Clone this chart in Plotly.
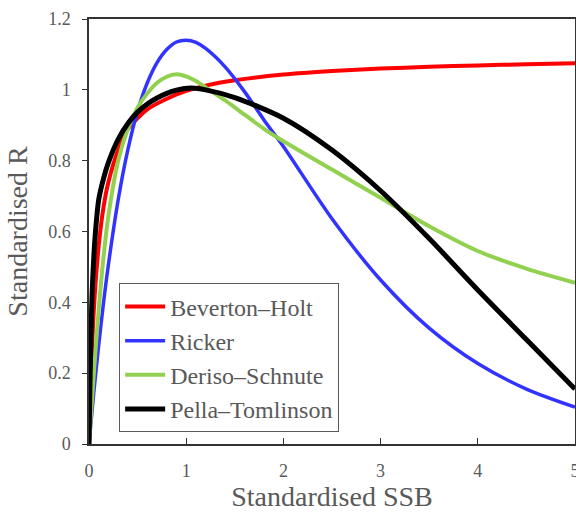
import plotly.graph_objects as go

# Standardised SSB (x) and standardised R (y)
bh_x = [0, 0.02, 0.05, 0.1, 0.15, 0.2, 0.3, 0.4, 0.5, 0.6, 0.8, 1.0, 1.2, 1.5, 2.0, 2.5, 3.0, 3.5, 4.0, 4.5, 5.0]
bh_y = [0, 0.19, 0.38, 0.56, 0.67, 0.74, 0.83, 0.89, 0.92, 0.945, 0.975, 0.997, 1.012, 1.027, 1.043, 1.053, 1.06, 1.065, 1.069, 1.072, 1.075]

rk_x = [0, 0.05, 0.1, 0.15, 0.2, 0.3, 0.4, 0.5, 0.6, 0.7, 0.8, 0.9, 1.0, 1.1, 1.2, 1.4, 1.6, 1.8, 2.0, 2.5, 3.0, 3.5, 4.0, 4.5, 5.0]
rk_y = [0, 0.147, 0.28, 0.40, 0.507, 0.689, 0.831, 0.94, 1.02, 1.077, 1.114, 1.135, 1.14, 1.134, 1.117, 1.065, 0.995, 0.915, 0.84, 0.636, 0.463, 0.327, 0.227, 0.155, 0.104]

ds_x = [0, 0.05, 0.1, 0.15, 0.2, 0.3, 0.4, 0.5, 0.6, 0.7, 0.8, 0.9, 1.0, 1.1, 1.2, 1.4, 1.6, 1.8, 2.0, 2.5, 3.0, 3.5, 4.0, 4.5, 5.0]
ds_y = [0, 0.2, 0.38, 0.53, 0.645, 0.8, 0.89, 0.95, 0.99, 1.02, 1.037, 1.044, 1.038, 1.025, 1.007, 0.97, 0.93, 0.89, 0.855, 0.775, 0.695, 0.615, 0.545, 0.495, 0.455]

pt_x = [0, 0.01, 0.03, 0.05, 0.07, 0.1, 0.15, 0.2, 0.3, 0.4, 0.5, 0.6, 0.7, 0.8, 0.9, 1.05, 1.2, 1.5, 2.0, 2.5, 3.0, 3.5, 4.0, 4.5, 5.0]
pt_y = [0, 0.17, 0.41, 0.53, 0.61, 0.69, 0.75, 0.795, 0.86, 0.905, 0.937, 0.96, 0.977, 0.99, 0.999, 1.005, 1.0, 0.978, 0.92, 0.83, 0.715, 0.58, 0.435, 0.295, 0.155]

names = ["Beverton–Holt", "Ricker", "Deriso–Schnute", "Pella–Tomlinson"]
colors = ["#FF0000", "#3333FF", "#92D050", "#000000"]
widths = [4, 3.5, 4, 5]

x_ticks = [0, 1, 2, 3, 4, 5]
y_ticks = [0, 0.2, 0.4, 0.6, 0.8, 1, 1.2]

series = [(bh_x, bh_y), (rk_x, rk_y), (ds_x, ds_y), (pt_x, pt_y)]

FONT = "Liberation Serif"
GRAY = "#595959"

fig = go.Figure()
for (xs, ys), n, c, w in zip(series, names, colors, widths):
    fig.add_trace(go.Scatter(x=xs, y=ys, name=n, mode="lines",
                             line=dict(color=c, width=w, shape="spline", smoothing=0.8)))

fig.update_layout(
    width=576, height=512,
    margin=dict(l=89, r=1, t=19, b=68),
    plot_bgcolor="white", paper_bgcolor="white",
    font=dict(family=FONT, color=GRAY),
    showlegend=True,
    legend=dict(x=0.062, y=0.378, xanchor="left", yanchor="top",
                bgcolor="white", bordercolor=GRAY, borderwidth=1,
                font=dict(family=FONT, size=24, color=GRAY),
                itemwidth=40),
    xaxis=dict(range=[0, 5], tickvals=x_ticks, ticks="inside", ticklen=6, tickcolor="#333",
               showline=True, mirror=True, linecolor="#333", linewidth=1.5,
               showgrid=False, zeroline=False, automargin=False, ticklabeloverflow="allow",
               tickfont=dict(family=FONT, size=18, color=GRAY), ticklabelstandoff=10,
               title=dict(text="Standardised SSB", font=dict(family=FONT, size=28, color=GRAY), standoff=4)),
    yaxis=dict(range=[0, 1.2], tickvals=y_ticks, ticks="outside", ticklen=5, tickcolor="#333",
               showline=True, mirror=True, linecolor="#333", linewidth=1.5,
               showgrid=False, zeroline=False, automargin=False,
               tickfont=dict(family=FONT, size=18, color=GRAY), ticklabelstandoff=8,
               title=dict(text="Standardised R", font=dict(family=FONT, size=28, color=GRAY), standoff=12)),
)

fig.write_html("out.html", config={"displayModeBar": False},
               post_script="document.body.style.margin='0';")
